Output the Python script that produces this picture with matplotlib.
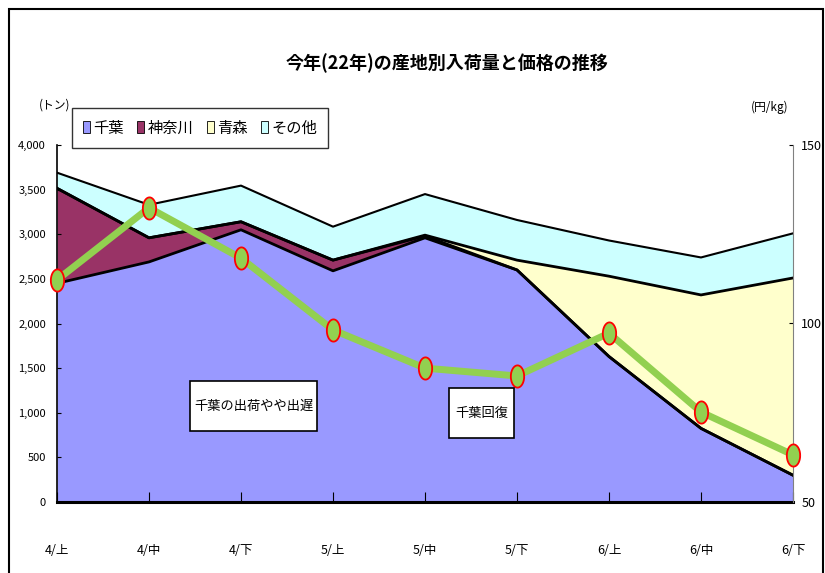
import numpy as np
import matplotlib
matplotlib.use("Agg")
import matplotlib.pyplot as plt
from matplotlib.patches import Rectangle

plt.rcParams['font.family'] = ['Noto Sans CJK JP', 'DejaVu Sans']

# 時期
periods = ["4/上", "4/中", "4/下", "5/上", "5/中", "5/下", "6/上", "6/中", "6/下"]

# 産地別入荷量 (トン)
chiba = [2450, 2690, 3050, 2590, 2960, 2600, 1630, 825, 300]
kanagawa = [1065, 270, 90, 120, 20, 0, 0, 0, 0]
aomori = [0, 0, 0, 0, 10, 110, 900, 1495, 2210]
others = [175, 370, 405, 375, 460, 450, 400, 420, 500]

# 価格 (円/kg)
price = [112.2, 132.4, 118.3, 98.2, 87.5, 85.3, 97.3, 75.2, 63.2]

series_names = ["千葉", "神奈川", "青森", "その他"]
colors = ["#9999FF", "#993366", "#FFFFCC", "#CCFFFF"]

W, H = 825, 573
fig = plt.figure(figsize=(W / 100, H / 100), dpi=100)
ax = fig.add_axes([57 / W, 71 / H, 736 / W, 357 / H])

x = np.arange(len(periods))
stack = np.vstack([chiba, kanagawa, aomori, others])
cum = np.cumsum(stack, axis=0)
lower = np.zeros(len(periods))
for i, name in enumerate(series_names):
    ax.fill_between(x, lower, cum[i], color=colors[i], lw=0, label=name)
    ax.plot(x, cum[i], color="black", lw=2 if i < 3 else 1.5, zorder=3)
    lower = cum[i]

ax.set_xlim(0, len(periods) - 1)
ax.set_ylim(0, 4000)
ax.set_yticks(range(0, 4001, 500))
ax.set_yticklabels([f"{v:,}" for v in range(0, 4001, 500)], fontsize=8)
ax.set_xticks(x)
ax.set_xticklabels(periods, fontsize=9)
ax.tick_params(axis="x", direction="in", length=7, pad=30)
ax.tick_params(axis="y", direction="in", length=3, pad=8)
ax.spines["top"].set_visible(False)
ax.spines["right"].set_visible(False)
ax.spines["left"].set_linewidth(1.2)
ax.spines["bottom"].set_linewidth(2.2)

ax2 = ax.twinx()
ellipse = [(0.6 * np.cos(t), np.sin(t)) for t in np.linspace(0, 2 * np.pi, 40)]
ax2.plot(x, price, color="#92D050", lw=5, marker=ellipse, markersize=16,
         markerfacecolor="#92D050", markeredgecolor="red", markeredgewidth=1.3,
         zorder=5, clip_on=False)
ax2.set_ylim(50, 150)
ax2.set_yticks([50, 100, 150])
ax2.tick_params(axis="y", direction="in", length=3, pad=6, labelsize=9)
ax2.spines["top"].set_visible(False)
ax2.spines["left"].set_visible(False)
ax2.spines["bottom"].set_visible(False)
ax2.spines["right"].set_color("#808080")

handles, labels = ax.get_legend_handles_labels()
leg = fig.legend(handles, labels, loc="center", bbox_to_anchor=(200 / W, 1 - 128 / H),
                 ncol=4, fontsize=11, frameon=True, fancybox=False, edgecolor="black",
                 handlelength=0.45, handleheight=0.8, handletextpad=0.2, columnspacing=0.9,
                 borderpad=0.75, borderaxespad=0)
leg.get_frame().set_linewidth(1.0)
for h in leg.legend_handles:
    h.set_edgecolor("black")
    h.set_linewidth(0.6)

fig.text(447 / W, 1 - 63 / H, "今年(22年)の産地別入荷量と価格の推移",
         fontsize=13, fontweight="bold", ha="center", va="center")
fig.text(55 / W, 1 - 105 / H, "(トン)", fontsize=8.5, ha="center", va="center")
fig.text(770 / W, 1 - 107 / H, "(円/kg)", fontsize=8.5, ha="center", va="center")

# 注記ボックス
notes = [("千葉の出荷やや出遅", 190, 381, 127, 50), ("千葉回復", 449, 388, 65, 50)]
for label, bx, by, bw, bh in notes:
    fig.patches.append(Rectangle((bx / W, 1 - (by + bh) / H), bw / W, bh / H,
                                 transform=fig.transFigure, facecolor="white",
                                 edgecolor="black", lw=1.2, zorder=10))
    fig.text((bx + bw / 2) / W, 1 - (by + bh / 2) / H, label, fontsize=9.5,
             ha="center", va="center", zorder=11)

fig.patches.append(Rectangle((9 / W, -0.05), 814 / W, 1.05 - 9 / H,
                             transform=fig.transFigure, fill=False,
                             edgecolor="black", lw=1.5))

fig.savefig("out.png", dpi=100)
